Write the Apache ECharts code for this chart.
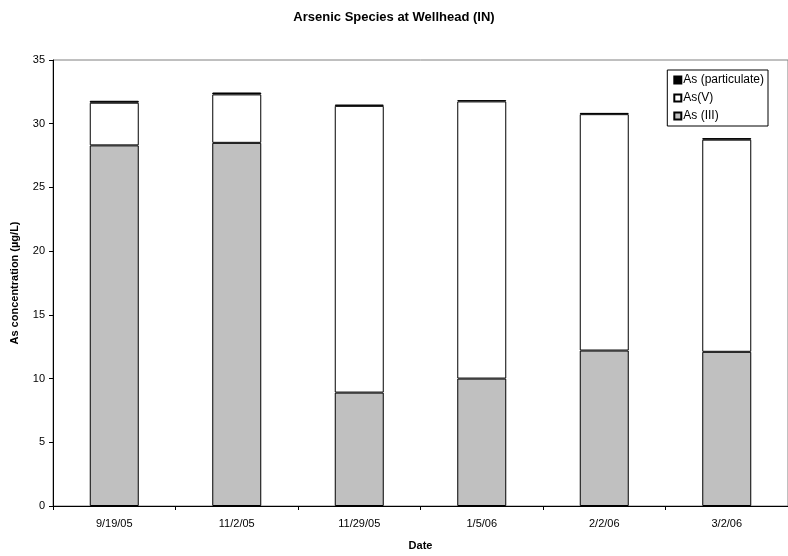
<!DOCTYPE html>
<html>
<head>
<meta charset="utf-8">
<script src="https://cdn.jsdelivr.net/npm/echarts@6/dist/echarts.min.js"></script>
<style>
  html, body { margin: 0; padding: 0; background: #fff; }
  #chart { width: 788px; height: 556px; }
</style>
</head>
<body>
<div id="chart"></div>
<script>
const dates = ['9/19/05', '11/2/05', '11/29/05', '1/5/06', '2/2/06', '3/2/06']
const asIII = [28.3, 28.5, 8.9, 10.0, 12.2, 12.1]
const asV = [3.35, 3.8, 22.5, 21.75, 18.55, 16.65]
const asPart = [0.15, 0.15, 0.1, 0.1, 0.1, 0.12]
const yTicks = [0, 5, 10, 15, 20, 25, 30, 35]

const font = 'Liberation Sans, Arial, sans-serif'

const chart = echarts.init(document.getElementById('chart'))

chart.setOption({
  animation: false,
  title: {
    text: 'Arsenic Species at Wellhead (IN)',
    left: 'center',
    top: 6,
    textStyle: { fontFamily: font, fontSize: 13, fontWeight: 'bold', color: '#000' }
  },
  legend: {
    orient: 'vertical',
    right: 20,
    top: 70,
    icon: 'rect',
    itemWidth: 7,
    itemHeight: 7,
    itemGap: 6,
    padding: [4, 4, 4, 6],
    borderColor: '#000',
    borderWidth: 1,
    backgroundColor: '#fff',
    textStyle: { fontFamily: font, fontSize: 12, color: '#000', padding: [0, 0, 0, -3] },
    data: ['As (particulate)', 'As(V)', 'As (III)']
  },
  grid: {
    left: 53,
    right: 0,
    top: 60,
    bottom: 47,
    show: true,
    borderColor: '#808080',
    borderWidth: 1
  },
  xAxis: {
    type: 'category',
    data: dates,
    name: 'Date',
    nameLocation: 'middle',
    nameGap: 34,
    nameTextStyle: { fontFamily: font, fontSize: 11, fontWeight: 'bold', color: '#000' },
    axisLine: { lineStyle: { color: '#000', width: 1 } },
    axisTick: { show: true, length: 4, lineStyle: { color: '#000' } },
    axisLabel: { fontFamily: font, fontSize: 11, color: '#000', margin: 12 }
  },
  yAxis: {
    type: 'value',
    min: 0,
    max: yTicks[yTicks.length - 1],
    interval: 5,
    name: 'As concentration (µg/L)',
    nameLocation: 'middle',
    nameGap: 33,
    nameTextStyle: { fontFamily: font, fontSize: 11, fontWeight: 'bold', color: '#000' },
    axisLine: { show: true, lineStyle: { color: '#000', width: 1 } },
    axisTick: { show: true, length: 4, lineStyle: { color: '#000' } },
    axisLabel: { fontFamily: font, fontSize: 11, color: '#000', margin: 8 },
    splitLine: { show: false }
  },
  series: [
    {
      name: 'As (III)',
      type: 'bar',
      stack: 'as',
      barWidth: '40%',
      data: asIII,
      itemStyle: { color: '#c0c0c0', borderColor: '#000', borderWidth: 1 }
    },
    {
      name: 'As(V)',
      type: 'bar',
      stack: 'as',
      data: asV,
      itemStyle: { color: '#ffffff', borderColor: '#000', borderWidth: 1 }
    },
    {
      name: 'As (particulate)',
      type: 'bar',
      stack: 'as',
      data: asPart,
      itemStyle: { color: '#000000', borderColor: '#000', borderWidth: 1 }
    }
  ]
})
</script>
</body>
</html>
